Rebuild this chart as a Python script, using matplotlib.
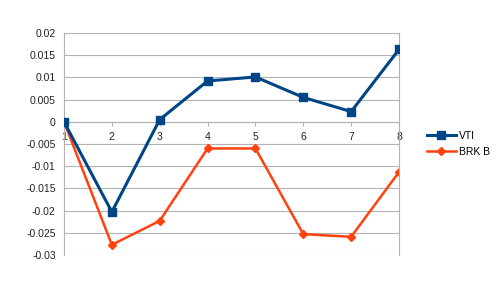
import matplotlib.pyplot as plt

# Data
periods = [1, 2, 3, 4, 5, 6, 7, 8]
vti = [0.0, -0.0203, 0.0005, 0.0092, 0.0101, 0.0055, 0.0023, 0.0163]
brk_b = [0.0, -0.0277, -0.0223, -0.0060, -0.0060, -0.0253, -0.0259, -0.0113]
y_ticks = [0.02, 0.015, 0.01, 0.005, 0, -0.005, -0.01, -0.015, -0.02, -0.025, -0.03]
y_labels = ['0.02', '0.015', '0.01', '0.005', '0', '-0.005', '-0.01',
            '-0.015', '-0.02', '-0.025', '-0.03']

plt.rcParams['font.family'] = ['Liberation Sans', 'DejaVu Sans']

fig = plt.figure(figsize=(5, 2.81), dpi=100)
ax = fig.add_axes([0.128, 0.0925, 0.67, 0.79])

grid_color = '#b3b3b3'

# Gridlines
for t in y_ticks:
    ax.axhline(t, color=grid_color, linewidth=0.8, zorder=0)

# Series
ax.plot(periods, vti, color='#004586', linewidth=2.2, marker='s',
        markersize=6, label='VTI', zorder=3)
ax.plot(periods, brk_b, color='#ff420e', linewidth=1.8, marker='D',
        markersize=4, label='BRK B', zorder=2)

ax.set_xlim(1, 8)
ax.set_ylim(-0.03, 0.02)
ax.set_yticks(y_ticks)
ax.set_yticklabels(y_labels)
ax.set_xticks(periods)
ax.set_xticklabels([str(p) for p in periods])

# Category axis crosses at zero
ax.spines['bottom'].set_position(('data', 0))
ax.spines['bottom'].set_color(grid_color)
ax.spines['top'].set_visible(False)
for side in ['left', 'right']:
    ax.spines[side].set_color(grid_color)
    ax.spines[side].set_linewidth(0.8)

ax.tick_params(axis='y', length=0, pad=6, labelsize=7.5, colors='#222222')
ax.tick_params(axis='x', length=3, color=grid_color, pad=4,
               labelsize=7.5, labelcolor='#222222')

# Legend
ax.legend(loc='center left', bbox_to_anchor=(1.055, 0.5), frameon=False,
          fontsize=7.5, handlelength=2.8, handletextpad=0.3,
          labelspacing=0.6)

fig.savefig('out.png', dpi=100)
